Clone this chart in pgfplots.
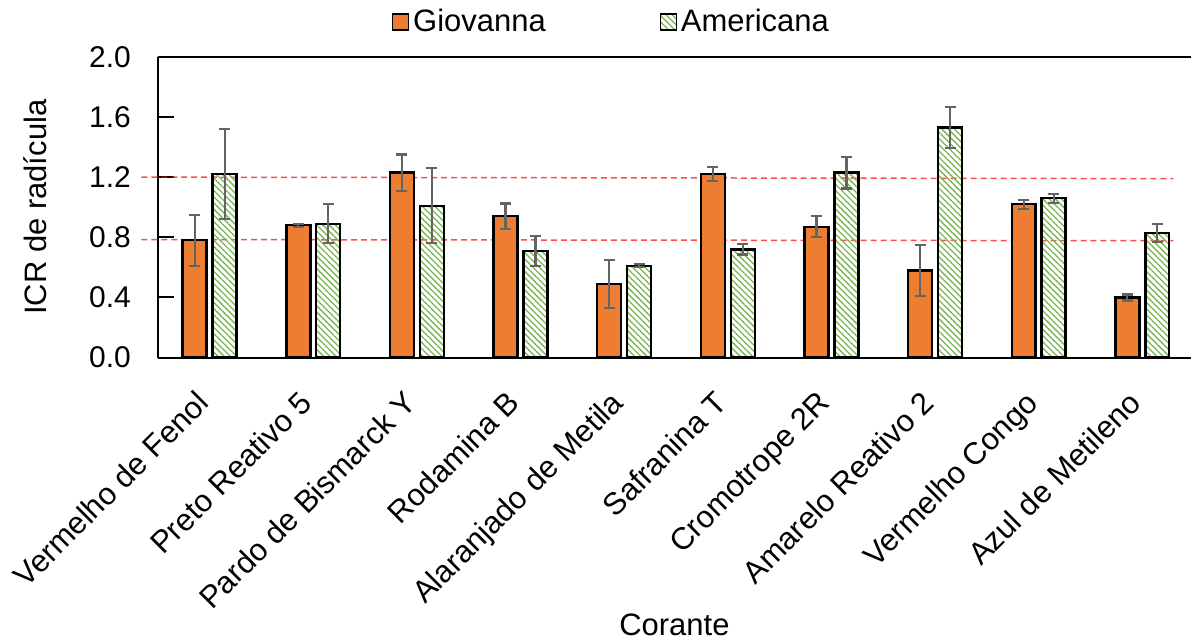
\documentclass[border=0pt]{standalone}
\usepackage{fontspec}
\setmainfont{Liberation Sans}
\usepackage{pgfplots}
\pgfplotsset{compat=1.18}
\usepackage{pgfplotstable}
\usetikzlibrary{patterns.meta}

\definecolor{giov}{HTML}{ED7D31}
\definecolor{amer}{HTML}{78B450}
\definecolor{errc}{HTML}{646464}

\pgfplotstableread{
x y e
0 0.78 0.17
1 0.88 0.01
2 1.23 0.12
3 0.94 0.085
4 0.49 0.16
5 1.22 0.045
6 0.87 0.07
7 0.58 0.17
8 1.02 0.03
9 0.40 0.02
}\giov
\pgfplotstableread{
x y e
0 1.22 0.30
1 0.89 0.13
2 1.01 0.25
3 0.71 0.10
4 0.61 0.01
5 0.72 0.035
6 1.23 0.105
7 1.53 0.135
8 1.06 0.03
9 0.83 0.06
}\amer

\begin{document}
\begin{tikzpicture}
\begin{axis}[
  scale only axis,
  width=517pt, height=150.5pt,
  font=\fontsize{15.5}{18}\selectfont,
  xmin=-0.5, xmax=9.47,
  ymin=0, ymax=2.0,
  axis x line=box, axis y line=left,
  axis line style={-, line width=1pt},
  ytick={0,0.4,...,2.0},
  yticklabel style={font=\fontsize{15}{18}\selectfont, xshift=-10pt, /pgf/number format/fixed, /pgf/number format/fixed zerofill, /pgf/number format/precision=1, /pgf/number format/assume math mode=true},
  tick align=inside,
  major tick length=8pt,
  ytick style={line width=1pt, black},
  xtick={0,1,...,9},
  xtick style={draw=none},
  xticklabels={Vermelho de Fenol, Preto Reativo 5, Pardo de Bismarck Y, Rodamina B, Alaranjado de Metila, Safranina T, Cromotrope 2R, Amarelo Reativo 2, Vermelho Congo, Azul de Metileno},
  xticklabel style={xshift=-7.5pt, yshift=-7.5pt, rotate=45, anchor=north east, inner sep=0pt},
  ylabel={ICR de radícula},
  ylabel style={at={(axis description cs:-0.119,0.5)}, anchor=center},
  xlabel={Corante},
  xlabel style={at={(axis description cs:0.5,-0.887)}, anchor=center},
  legend style={at={(axis description cs:0.44,1.116)}, anchor=center, draw=none, legend columns=2, font=\fontsize{15.5}{18}\selectfont,
    /tikz/every even column/.append style={column sep=55pt}},
  clip=false,
  ybar, bar width=12pt,
]
\path (axis description cs:-0.1528,-0.940) rectangle (axis description cs:1,1.189);
\addplot[red, opacity=0.7, line width=0.75pt, dash pattern=on 3pt off 2pt, forget plot, sharp plot] coordinates {(-0.66,1.20) (9.3,1.19)};
\addplot[red, opacity=0.7, line width=0.75pt, dash pattern=on 3pt off 2pt, forget plot, sharp plot] coordinates {(-0.66,0.785) (9.3,0.777)};
\addplot[fill=giov, draw=black, line width=1.2pt, bar shift=-7.5pt,
  error bars/.cd, y dir=both, y explicit,
  error bar style={line width=1.1pt, errc},
  error mark options={rotate=90, line width=1.1pt, mark size=2.75pt, errc},
  /pgfplots/legend image code/.code={\draw[fill=giov, draw=black, line width=0.6pt] (0pt,-4pt) rectangle (8pt,4pt);}
] table[x=x, y=y, y error=e] {\giov};
\addlegendentry{Giovanna}
\addplot[pattern={Lines[angle=-45, distance=2.2pt, line width=0.65pt]}, pattern color=amer, draw=black, line width=1.2pt, bar shift=7.5pt,
  error bars/.cd, y dir=both, y explicit,
  error bar style={line width=1.1pt, errc},
  error mark options={rotate=90, line width=1.1pt, mark size=2.75pt, errc},
  /pgfplots/legend image code/.code={\draw[pattern={Lines[angle=-45, distance=2.2pt, line width=0.65pt]}, pattern color=amer, draw=black, line width=0.6pt] (0pt,-4pt) rectangle (8pt,4pt);}
] table[x=x, y=y, y error=e] {\amer};
\addlegendentry{Americana}
\end{axis}
\end{tikzpicture}
\end{document}
